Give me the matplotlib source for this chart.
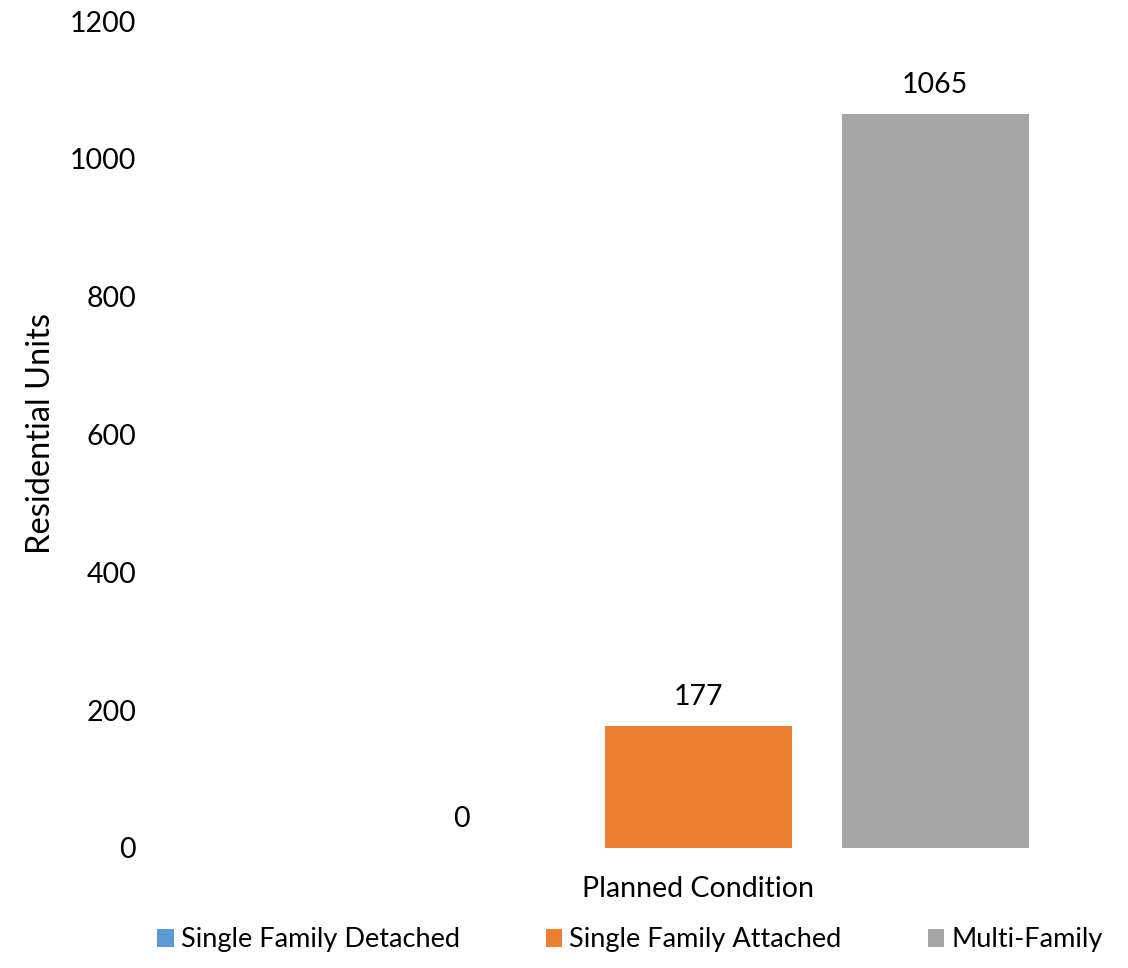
import matplotlib
matplotlib.use("Agg")
import matplotlib.pyplot as plt
from matplotlib.patches import Patch

plt.rcParams['font.family'] = ['Lato', 'DejaVu Sans']

# Data
category = "Planned Condition"
series_names = ["Single Family Detached", "Single Family Attached", "Multi-Family"]
series_values = [0, 177, 1065]
series_colors = ["#5B9BD5", "#ED7D31", "#A5A5A5"]
y_ticks = [0, 200, 400, 600, 800, 1000, 1200]

W, H = 1128, 968
fig = plt.figure(figsize=(W / 100, H / 100), dpi=100)

# axes box in pixel terms
left_px, right_px = 150, 1128
bottom_px, top_px = 848, 21
ax = fig.add_axes([left_px / W, (H - bottom_px) / H,
                   (right_px - left_px) / W, (bottom_px - top_px) / H])

spacing = 1.0
bar_w = 187 / 237
offsets = [-1, 0, 1]
center_px = 698
px_per_unit = 237
for off, name, val, col in zip(offsets, series_names, series_values, series_colors):
    ax.bar(off * spacing, val, width=bar_w, color=col, label=name)
    ax.annotate(f"{val}", xy=(off * spacing, val), xytext=(0, 21),
                textcoords="offset points", ha="center", va="center",
                fontsize=20.5, color="#000000")

ax.set_xlim((left_px - center_px) / px_per_unit, (right_px - center_px) / px_per_unit)
ax.set_ylim(0, 1200)
ax.set_yticks(y_ticks)
ax.set_yticklabels([str(t) for t in y_ticks], fontsize=20.5)
ax.set_xticks([0])
ax.set_xticklabels([category], fontsize=20.5)
ax.tick_params(axis="both", length=0)
ax.tick_params(axis="y", pad=10)
ax.tick_params(axis="x", pad=20)
for s in ax.spines.values():
    s.set_visible(False)

fig.text(41 / W, 1 - 433 / H, "Residential Units", rotation=90,
         ha="center", va="center", fontsize=23.5)

handles = [Patch(facecolor=c, edgecolor="none") for c in series_colors]
fig.legend(handles, series_names, loc="center", bbox_to_anchor=(630 / W, 1 - 940 / H),
           ncol=3, frameon=False, fontsize=19.5, handlelength=0.6, handleheight=0.6,
           handletextpad=0.25, columnspacing=3.2)

fig.savefig("out.png", dpi=100)
